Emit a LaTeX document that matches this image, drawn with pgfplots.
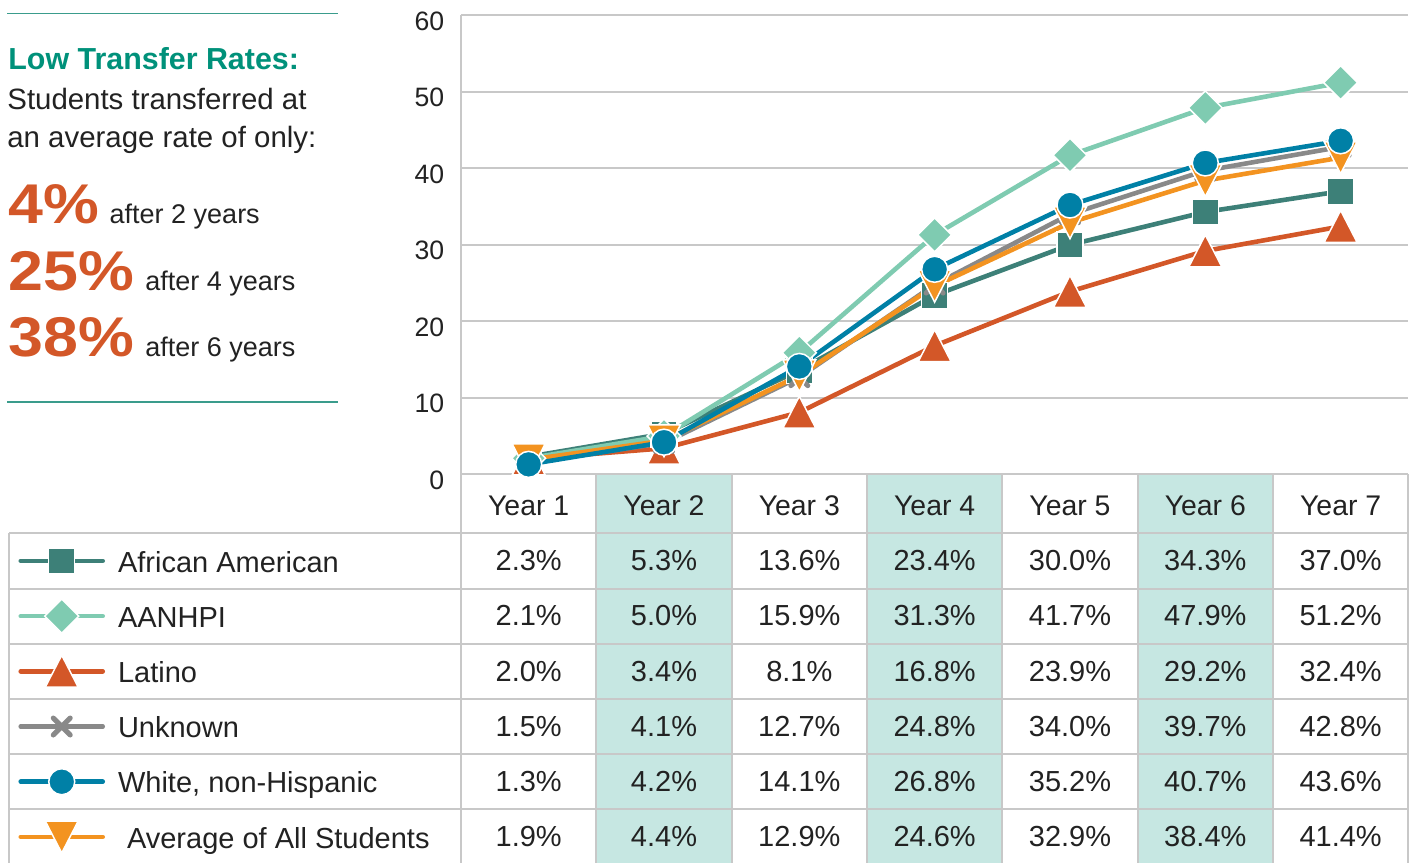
\documentclass[border=0pt]{standalone}
\usepackage{graphicx}
\usepackage{pgfplots}
\pgfplotsset{compat=1.18}
\usepackage{pgfplotstable}
\usepackage{fontspec}
\setmainfont{Liberation Sans}
\definecolor{cAA}{HTML}{3D8078}
\definecolor{cAN}{HTML}{7FCBB1}
\definecolor{cLA}{HTML}{D35728}
\definecolor{cUN}{HTML}{898989}
\definecolor{cWH}{HTML}{0080A6}
\definecolor{cAV}{HTML}{F39320}
\definecolor{gridgray}{HTML}{C8C8C8}
\definecolor{cShade}{HTML}{C6E7E2}
\definecolor{titlegreen}{HTML}{00917A}
\definecolor{rulegreen}{HTML}{3A9C8C}
\definecolor{txt}{HTML}{222222}

\pgfplotstableread{
year aa aanhpi latino unknown white avg
1 2.3 2.1 2.0 1.5 1.3 1.9
2 5.3 5.0 3.4 4.1 4.2 4.4
3 13.6 15.9 8.1 12.7 14.1 12.9
4 23.4 31.3 16.8 24.8 26.8 24.6
5 30.0 41.7 23.9 34.0 35.2 32.9
6 34.3 47.9 29.2 39.7 40.7 38.4
7 37.0 51.2 32.4 42.8 43.6 41.4
}\data

\pgfplotsset{
  sAA/.style={color=cAA, line width=2.3pt, mark=square*, mark size=6.5pt,
    mark options={draw=white, fill=cAA, line width=0.75pt}},
  sAN/.style={color=cAN, line width=2.3pt, mark=square*, mark size=6pt,
    mark options={draw=white, fill=cAN, line width=0.75pt, rotate=45}},
  sLA/.style={color=cLA, line width=2.3pt, mark=triangle*, mark size=9.5pt,
    mark options={draw=white, fill=cLA, line width=0.75pt, yshift=-2.6pt, yscale=1.12}},
  sUN/.style={color=cUN, line width=2.3pt, mark=x, mark size=6pt,
    mark options={draw=cUN, line width=2.5pt, line cap=round}},
  sWH/.style={color=cWH, line width=2.3pt, mark=*, mark size=6.5pt,
    mark options={draw=white, fill=cWH, line width=0.75pt}},
  sAV/.style={color=cAV, line width=2.3pt, mark=triangle*, mark size=9.5pt,
    mark options={draw=white, fill=cAV, line width=0.75pt, yshift=2.6pt, rotate=180, yscale=1.12}},
}

\begin{document}
\begin{tikzpicture}
\useasboundingbox (0pt,0pt) rectangle (706.5pt,-431.5pt);
\begin{scope}[x=0.5pt, y=-0.5pt]
% left panel
\draw[rulegreen, line width=0.8pt] (7,13.3) -- (337.7,13.3);
\draw[rulegreen, line width=0.8pt] (7,401.7) -- (337.7,401.7);
\node[anchor=base west, inner sep=0pt, text=titlegreen, font=\bfseries\fontsize{15.2}{18}\selectfont] at (8,69) {Low Transfer Rates:};
\node[anchor=base west, inner sep=0pt, text=txt, font=\fontsize{14.7}{18}\selectfont] at (7,109.3) {Students transferred at};
\node[anchor=base west, inner sep=0pt, text=txt, font=\fontsize{14.7}{18}\selectfont] at (7,147.3) {an average rate of only:};
\node[anchor=base west, inner sep=0pt, text=cLA, font=\bfseries\fontsize{28}{30}\selectfont] at (8,223.3) {\scalebox{1.12}[1]{4\%}};
\node[anchor=base west, inner sep=0pt, text=txt, font=\fontsize{13.5}{15}\selectfont] at (109.3,223.3) {after 2 years};
\node[anchor=base west, inner sep=0pt, text=cLA, font=\bfseries\fontsize{28}{30}\selectfont] at (8,290) {\scalebox{1.12}[1]{25\%}};
\node[anchor=base west, inner sep=0pt, text=txt, font=\fontsize{13.5}{15}\selectfont] at (145,290) {after 4 years};
\node[anchor=base west, inner sep=0pt, text=cLA, font=\bfseries\fontsize{28}{30}\selectfont] at (8,356.7) {\scalebox{1.12}[1]{38\%}};
\node[anchor=base west, inner sep=0pt, text=txt, font=\fontsize{13.5}{15}\selectfont] at (145,356.7) {after 6 years};

% table background
\foreach \c in {1,3,5} \fill[cShade] ({461+135.33*\c},474.3) rectangle ({461+135.33*(\c+1)},863);
\begin{scope}[gridgray, line width=1pt]
\draw (461,474.3) -- (1408.3,474.3);
\foreach \y in {533.3,588.5,643.7,698.9,754.1,809.3} \draw (9,\y) -- (1408.3,\y);
\draw (9,533.3) -- (9,863);
\foreach \c in {0,...,7} \draw ({461+135.33*\c},474.3) -- ({461+135.33*\c},863);
\end{scope}

% table values
\foreach \s [count=\r from 0] in {aa,aanhpi,latino,unknown,white,avg}{
  \foreach \c in {0,...,6}{
    \edef\tmp{\noexpand\pgfplotstablegetelem{\c}{\s}\noexpand\of\noexpand\data}\tmp
    \node[anchor=base, inner sep=0pt, text=txt, font=\fontsize{14.5}{17}\selectfont]
      at ({528.67+135.33*\c},{570.7+55.2*\r}) {\pgfplotsretval\%};
  }
}
\end{scope}

\begin{axis}[
  at={(230.5pt,-237.15pt)}, anchor=south west,
  scale only axis, width=473.65pt, height=229.5pt,
  xmin=0.5, xmax=7.5, ymin=0, ymax=60,
  axis x line*=bottom, axis y line*=left,
  axis line style={draw=gridgray, line width=1pt},
  ytick={0,10,...,60},
  xtick={1,...,7},
  xticklabels={Year 1,Year 2,Year 3,Year 4,Year 5,Year 6,Year 7},
  major tick length=0pt,
  ymajorgrids, grid style={draw=gridgray, line width=1pt},
  /pgf/number format/assume math mode=true,
  yticklabel style={font=\fontsize{13.3}{15}\selectfont, text=txt, anchor=east, inner sep=0pt, xshift=-8.2pt, yshift=-3pt},
  xticklabel style={font=\fontsize{14.2}{16}\selectfont, text=txt, anchor=base, inner sep=0pt, yshift=-20.7pt},
  clip=false,
  legend cell align=left,
  legend image code/.code={
    \draw[mark repeat=2, mark phase=2, line cap=round, #1] plot coordinates {(0pt,0pt) (20.5pt,0pt) (41pt,0pt)};
  },
  legend style={at={(-0.46718,-0.12854)}, anchor=north west, draw=none, fill=none,
    inner sep=0pt, outer sep=0pt, row sep=0pt, column sep=6.5pt,
    font=\fontsize{14.5}{17}\selectfont, text=txt,
    nodes={inner sep=0pt, text height=19.35pt, text depth=8.25pt}},
]
\addplot[sAA] table[x=year, y=aa] {\data}; \addlegendentry{African American}
\addplot[sAN] table[x=year, y=aanhpi] {\data}; \addlegendentry{AANHPI}
\addplot[sLA] table[x=year, y=latino] {\data}; \addlegendentry{Latino}
\addplot[sUN] table[x=year, y=unknown] {\data}; \addlegendentry{Unknown}
\addlegendimage{sWH}\addlegendentry{White, non-Hispanic}
\addlegendimage{sAV}\addlegendentry{\hspace{4.5pt}Average of All Students}
\addplot[sAV, forget plot] table[x=year, y=avg] {\data};
\addplot[sWH, forget plot] table[x=year, y=white] {\data};
\end{axis}
\end{tikzpicture}
\end{document}
